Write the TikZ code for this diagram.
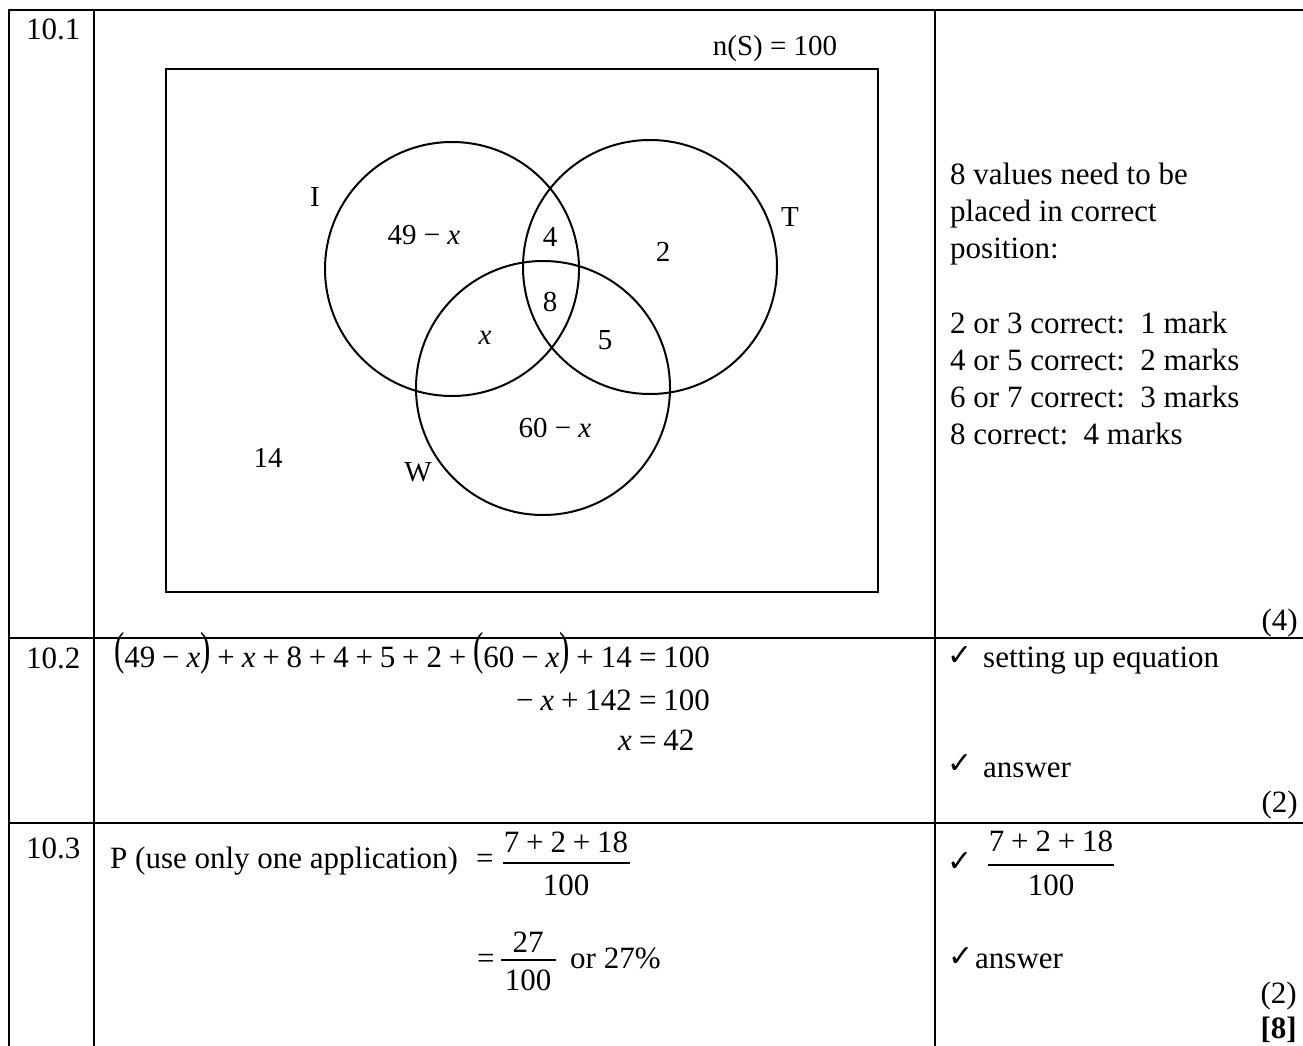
\documentclass[tikz,border=0pt]{standalone}
\usepackage{fontspec}
\usepackage{graphicx}
\setmainfont{Liberation Serif}
\newfontfamily\dejavu{DejaVu Sans}
\newcommand\fbig{\fontsize{31}{37.2}\selectfont}
\newcommand\fven{\fontsize{29}{34}\selectfont}
\newcommand\vx{\textit{x}}
\newcommand\ck{{\dejavu\fontsize{30}{30}\selectfont ✓}}
\newcommand\op[1]{\hspace{0.22em}#1\hspace{0.22em}}
\newcommand\bp[1]{\raisebox{0.08em}{\scalebox{1}[1.5]{#1}}}
\begin{document}
\begin{tikzpicture}[x=1pt,y=-1pt,
  tbl/.style={line width=2.6pt},
  venn/.style={line width=2pt},
  txt/.style={inner sep=0pt, anchor=base west, font=\fbig},
  rtxt/.style={inner sep=0pt, anchor=base east, font=\fbig},
  ctxt/.style={inner sep=0pt, anchor=base, font=\fbig},
  vlbl/.style={inner sep=0pt, anchor=center, font=\fven},
  cmark/.style={inner sep=0pt, anchor=center}]
\useasboundingbox (0,0) rectangle (1303,1046);
% table grid
\draw[tbl] (9,10) -- (1303,10);
\draw[tbl] (9,8.7) -- (9,1046);
\draw[tbl] (94,10) -- (94,1046);
\draw[tbl] (935,10) -- (935,1046);
\draw[tbl] (9,638) -- (1303,638);
\draw[tbl] (9,823) -- (1303,823);
% row labels
\node[txt] (l1) at (26,40) {10.1};
\node[txt] (l2) at (26,668) {10.2};
\node[txt] (l3) at (26,858) {10.3};
% Venn diagram
\draw[venn] (166,69) rectangle (878,592);
\draw[venn] (452,269) circle[radius=127];
\draw[venn] (650,267) circle[radius=127];
\draw[venn] (543,388) circle[radius=127];
\node[vlbl] (nS) at (775,49) {n(S) = 100};
\node[vlbl] (sI) at (315,197) {I};
\node[vlbl] (sT) at (790,217) {T};
\node[vlbl] (sW) at (418,472) {W};
\node[vlbl] (aI) at (424,235) {49 − \vx};
\node[vlbl] (aIT) at (550,237) {4};
\node[vlbl] (aT) at (663,252) {2};
\node[vlbl] (aITW) at (550,302) {8};
\node[vlbl] (aIW) at (485,338) {\vx};
\node[vlbl] (aTW) at (605,340) {5};
\node[vlbl] (aW) at (555,428) {60 − \vx};
\node[vlbl] (aout) at (268,458) {14};
% marking notes 10.1
\node[txt] (m1) at (950,184) {8 values need to be};
\node[txt] (m2) at (950,221) {placed in correct};
\node[txt] (m3) at (950,258) {position:};
\node[txt] (m4) at (950,333) {2 or 3 correct:\ \ 1 mark};
\node[txt] (m5) at (950,370) {4 or 5 correct:\ \ 2 marks};
\node[txt] (m6) at (950,407) {6 or 7 correct:\ \ 3 marks};
\node[txt] (m7) at (950,444) {8 correct:\ \ 4 marks};
\node[rtxt] (k1) at (1298,630) {(4)};
% 10.2
\node[rtxt] (e1L) at (632,667) {\bp{(}49\op{−}\vx\bp{)}\op{+}\vx\op{+}8\op{+}4\op{+}5\op{+}2\op{+}\bp{(}60\op{−}\vx\bp{)}\op{+}14};
\node[txt] (e1R) at (632,667) {\op{=}100};
\node[rtxt] (e2L) at (632,710) {−\hspace{0.22em}\vx\op{+}142};
\node[txt] (e2R) at (632,710) {\op{=}100};
\node[rtxt] (e3L) at (632,750) {\vx};
\node[txt] (e3R) at (632,750) {\op{=}42};
\node[cmark] (c1) at (960,656) {\ck};
\node[txt] (t1) at (983,667) {setting up equation};
\node[cmark] (c2) at (960,764) {\ck};
\node[txt] (t2) at (983,777) {answer};
\node[rtxt] (k2) at (1298,812) {(2)};
% 10.3
\node[txt] (p1) at (110,868) {P (use only one application)};
\node[txt] (q1) at (476,868) {=};
\node[ctxt] (f1n) at (566,852) {7\op{+}2\op{+}18};
\node[ctxt] (f1d) at (566,895) {100};
\coordinate (f1a) at (503,863);
\coordinate (f1b) at (630,863);
\draw[line width=1.3pt] (f1a) -- (f1b);
\node[txt] (q2) at (477,968) {=};
\node[ctxt] (f2n) at (528,952) {27};
\node[ctxt] (f2d) at (528,990) {100};
\coordinate (f2a) at (501,960);
\coordinate (f2b) at (556,960);
\draw[line width=1.3pt] (f2a) -- (f2b);
\node[txt] (p2) at (570,968) {or 27\%};
\node[cmark] (c3) at (960,862) {\ck};
\node[ctxt] (g1n) at (1051,851) {7\op{+}2\op{+}18};
\node[ctxt] (g1d) at (1051,895) {100};
\coordinate (g1a) at (988,865);
\coordinate (g1b) at (1114,865);
\draw[line width=1.3pt] (g1a) -- (g1b);
\node[cmark] (c4) at (961,957) {\ck};
\node[txt] (t3) at (975,968) {answer};
\node[rtxt] (k3) at (1297,1003) {(2)};
\node[rtxt] (k4) at (1297,1038) {\bfseries [8]};
\end{tikzpicture}
\end{document}
